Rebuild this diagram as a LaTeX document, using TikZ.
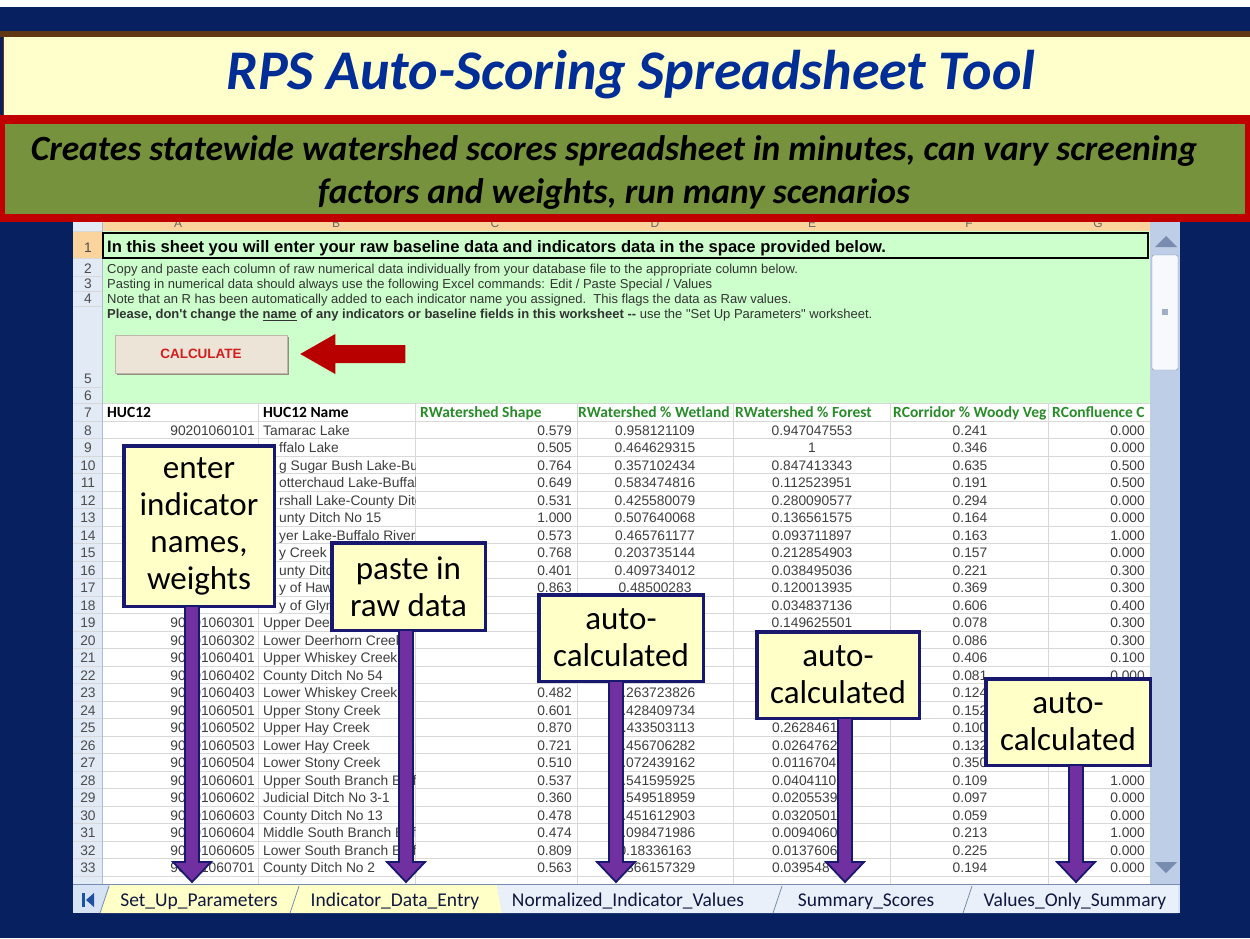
\documentclass[tikz,border=0pt]{standalone}
\usepackage{fontspec}
\setmainfont{Carlito}
\newfontfamily\arial{Liberation Sans}
\usetikzlibrary{calc}

\definecolor{navy}{RGB}{6,32,96}
\definecolor{cream}{RGB}{255,255,204}
\definecolor{titleblue}{RGB}{0,45,150}
\definecolor{bandred}{RGB}{192,0,0}
\definecolor{bandgreen}{RGB}{118,146,60}
\definecolor{brownline}{RGB}{96,56,20}
\definecolor{sheetgreen}{RGB}{204,255,204}
\definecolor{gridgray}{RGB}{216,216,216}
\definecolor{hdrblue}{RGB}{226,234,246}
\definecolor{hdrpeach}{RGB}{250,212,156}
\definecolor{cellgray}{RGB}{62,62,62}
\definecolor{hdrgreen}{RGB}{40,140,40}
\definecolor{btnface}{RGB}{236,228,214}
\definecolor{btnshade}{RGB}{150,140,130}
\definecolor{btnred}{RGB}{210,30,30}
\definecolor{darkred}{RGB}{185,0,0}
\definecolor{calloutfill}{RGB}{255,255,200}
\definecolor{calloutline}{RGB}{24,24,110}
\definecolor{arrowpurple}{RGB}{112,48,160}
\definecolor{scrollbg}{RGB}{190,206,230}
\definecolor{scrolledge}{RGB}{120,140,175}
\definecolor{tabbar}{RGB}{214,227,245}
\definecolor{tabyellow}{RGB}{255,255,200}
\definecolor{tabtext}{RGB}{16,24,64}
\definecolor{navblue}{RGB}{30,80,160}

% baseline of worksheet row #1 (rows 7 and below)
\newcommand\ry[1]{\fpeval{417.5+(#1-7)*17.5}}

% worksheet cells, one macro per column
\newcommand\cA[2]{\node[cell,anchor=base east] (A#1) at (255,\ry{#1}) {#2};}
\newcommand\cB[3]{\node[cell,anchor=base west] (B#1) at (#2,\ry{#1}) {#3};}
\newcommand\cC[2]{\node[cell,anchor=base east] (C#1) at (572,\ry{#1}) {#2};}
\newcommand\cD[2]{\node[cell,anchor=base] (D#1) at (655,\ry{#1}) {#2};}
\newcommand\cE[2]{\node[cell,anchor=base] (E#1) at (812,\ry{#1}) {#2};}
\newcommand\cEw[2]{\node[cell,anchor=base west] (E#1) at (772,\ry{#1}) {#2};}
\newcommand\cF[2]{\node[cell,anchor=base] (F#1) at (970,\ry{#1}) {#2};}
\newcommand\cG[2]{\node[cell,anchor=base east] (G#1) at (1145,\ry{#1}) {#2};}

% block arrow from a callout down to its sheet tab
\newcommand\blockarrow[2]{%
  \filldraw[blockarrowstyle] let \p1=(#1), \p2=(#2) in
    (\x2-7pt,\y1) -- (\x2-7pt,\y2+20pt) -- (\x2-19pt,\y2+20pt) -- (\x2,\y2)
    -- (\x2+19pt,\y2+20pt) -- (\x2+7pt,\y2+20pt) -- (\x2+7pt,\y1) -- cycle;}

\begin{document}
\begin{tikzpicture}[x=1pt,y=-1pt,
  cell/.style={font=\arial\fontsize{13.8}{16}\selectfont, text=cellgray, inner sep=0pt},
  rownum/.style={font=\arial\fontsize{13.8}{16}\selectfont, text=black!70, inner sep=0pt, anchor=base},
  note/.style={font=\arial\fontsize{13}{15}\selectfont, text=black!80, inner sep=0pt, anchor=base west},
  colhead/.style={font=\bfseries\fontsize{15.5}{18}\selectfont, text=hdrgreen, inner sep=0pt, anchor=base west},
  colletter/.style={font=\arial\fontsize{12}{14}\selectfont, text=black!60, inner sep=0pt},
  grid/.style={draw=gridgray, line width=0.8pt},
  callout/.style={draw=calloutline, fill=calloutfill, line width=3.5pt, align=center,
    inner sep=0pt, font=\fontsize{33}{37}\selectfont, text=black},
  blockarrowstyle/.style={fill=arrowpurple, draw=calloutline, line width=1.8pt, line join=miter},
  tablabel/.style={font=\fontsize{19.5}{22}\selectfont, text=tabtext, inner sep=0pt, anchor=base},
  tabsep/.style={draw=scrolledge, line width=0.8pt},
]
\useasboundingbox (0,0) rectangle (1250,938);

% backdrop
\fill[white] (0,0) rectangle (1250,7);
\fill[navy] (0,7) rectangle (1250,938);

% ---------------- worksheet ----------------
\fill[white] (73,215) rectangle (1150,884);
\fill[hdrpeach] (102,215) rectangle (1150,231);
\fill[hdrblue] (73,215) rectangle (102,884);
\foreach \x/\l in {178/A,336/B,495/C,655/D,812/E,969/F,1098/G}
  \node[colletter] (col\l) at (\x,223) {\l};
\fill[sheetgreen] (102,231) rectangle (1150,403.75);
\fill[hdrpeach] (73,231) rectangle (102,258);

% grid of the data rows
\foreach \k in {0,...,27}
  \draw[grid] (73,{403.75+\k*17.5}) -- (1150,{403.75+\k*17.5});
\foreach \yy in {231,258,276,291,306,387}
  \draw[grid] (73,\yy) -- (102,\yy);
\foreach \x in {258,415,577,733,890,1048}
  \draw[grid] (\x,403.75) -- (\x,884);
\draw[draw=scrolledge!60, line width=0.8pt] (102,215) -- (102,884);

% row numbers
\foreach \r/\yy in {1/252,2/273,3/288,4/303,5/383,6/400}
  \node[rownum] (n\r) at (88,\yy) {\r};
\foreach \r in {7,...,33}
  \node[rownum] (n\r) at (88,\ry{\r}) {\r};

% instructions block
\draw[black, line width=1.2pt] (103,233) rectangle (1148,258);
\node[font=\arial\bfseries\fontsize{16.6}{18}\selectfont, inner sep=0pt, anchor=base west] (line1)
  at (107,252.5) {In this sheet you will enter your raw baseline data and indicators data in the space provided below.};
\node[note] (line2) at (107,273.5) {Copy and paste each column of raw numerical data individually from your database file to the appropriate column below.};
\node[note] (line3) at (107,288.5) {Pasting in numerical data should always use the following Excel commands: Edit / Paste Special / Values};
\node[note] (line4) at (107,303.5) {Note that an R has been automatically added to each indicator name you assigned.\ \ This flags the data as Raw values.};
\node[note] (line5) at (107,318.5) {\bfseries Please, don't change the \underline{name} of any indicators or baseline fields in this worksheet -{}-\mdseries\ use the "Set Up Parameters" worksheet.};

% calculate button and its pointer
\fill[btnshade] (117,337) rectangle (289,375);
\node[fill=btnface, draw=btnface!80!black, line width=0.5pt, minimum width=172pt, minimum height=38pt,
  inner sep=0pt, font=\arial\bfseries\fontsize{13.5}{15}\selectfont, text=btnred] (calc) at (201,354) {CALCULATE};
\coordinate (rtip) at ($(calc.east)+(13,0)$);
\fill[darkred] let \p1=(rtip) in
  (\x1,\y1) -- (\x1+35pt,\y1+20pt) -- (\x1+35pt,\y1+9pt) -- (\x1+105pt,\y1+9pt)
  -- (\x1+105pt,\y1-9pt) -- (\x1+35pt,\y1-9pt) -- (\x1+35pt,\y1-20pt) -- cycle;

% column headings
\node[colhead, text=black] (hA) at (107,\ry{7}) {HUC12};
\node[colhead, text=black] (hB) at (263,\ry{7}) {HUC12 Name};
\node[colhead] (hC) at (420,\ry{7}) {RWatershed Shape};
\node[colhead] (hD) at (578,\ry{7}) {RWatershed \% Wetland};
\node[colhead] (hE) at (735,\ry{7}) {RWatershed \% Forest};
\begin{scope}
  \clip (890,400) rectangle (1047,425);
  \node[colhead] (hF) at (893,\ry{7}) {RCorridor \% Woody Veg};
\end{scope}
\begin{scope}
  \clip (1048,400) rectangle (1148,425);
  \node[colhead] (hG) at (1052,\ry{7}) {RConfluence C};
\end{scope}

% column A
\cA{8}{90201060101}
\foreach \r/\v in {19/90201060301,20/90201060302,21/90201060401,22/90201060402,23/90201060403,
  24/90201060501,25/90201060502,26/90201060503,27/90201060504,28/90201060601,29/90201060602,
  30/90201060603,31/90201060604,32/90201060605,33/90201060701}
  {\cA{\r}{\v}}

% column B (text is cut at the next filled cell)
\begin{scope}
  \clip (258,400) rectangle (415,884);
  \cB{8}{263}{Tamarac Lake}
  \foreach \r/\v in {9/ffalo Lake,10/g Sugar Bush Lake-Buffalo,11/otterchaud Lake-Buffalo River,
    12/rshall Lake-County Ditch,13/unty Ditch No 15,14/yer Lake-Buffalo River,15/y Creek,
    16/unty Ditch,17/y of Hawley,18/y of Glyndon}
    {\cB{\r}{279}{\v}}
  \foreach \r/\v in {19/Upper Dee,20/Lower Deerhorn Creek,21/Upper Whiskey Creek,
    22/County Ditch No 54,23/Lower Whiskey Creek,24/Upper Stony Creek,25/Upper Hay Creek,
    26/Lower Hay Creek,27/Lower Stony Creek,28/Upper South Branch Buffalo River,
    29/Judicial Ditch No 3-1,30/County Ditch No 13,31/Middle South Branch Buffalo River,
    32/Lower South Branch Buffalo River,33/County Ditch No 2}
    {\cB{\r}{263}{\v}}
\end{scope}

% columns C and D
\foreach \r/\c/\d in {8/0.579/0.958121109,9/0.505/0.464629315,10/0.764/0.357102434,
  11/0.649/0.583474816,12/0.531/0.425580079,13/1.000/0.507640068,14/0.573/0.465761177,
  15/0.768/0.203735144,16/0.401/0.409734012,17/0.863/0.48500283,
  23/0.482/0.263723826,24/0.601/0.428409734,25/0.870/0.433503113,26/0.721/0.456706282,
  27/0.510/0.072439162,28/0.537/0.541595925,29/0.360/0.549518959,30/0.478/0.451612903,
  31/0.474/0.098471986,32/0.809/0.18336163,33/0.563/0.366157329}
  {\cC{\r}{\c}\cD{\r}{\d}}

% column E
\foreach \r/\v in {8/0.947047553,9/1,10/0.847413343,11/0.112523951,12/0.280090577,
  13/0.136561575,14/0.093711897,15/0.212854903,16/0.038495036,17/0.120013935,
  18/0.034837136,19/0.149625501}
  {\cE{\r}{\v}}
\foreach \r/\v in {25/0.2628461,26/0.0264762,27/0.0116704,28/0.0404110,29/0.0205539,
  30/0.0320501,31/0.0094060,32/0.0137606,33/0.039548}
  {\cEw{\r}{\v}}

% column F
\foreach \r/\v in {8/0.241,9/0.346,10/0.635,11/0.191,12/0.294,13/0.164,14/0.163,15/0.157,
  16/0.221,17/0.369,18/0.606,19/0.078,20/0.086,21/0.406,22/0.081,23/0.124,24/0.152,
  25/0.100,26/0.132,27/0.350,28/0.109,29/0.097,30/0.059,31/0.213,32/0.225,33/0.194}
  {\cF{\r}{\v}}

% column G
\foreach \r/\v in {8/0.000,9/0.000,10/0.500,11/0.500,12/0.000,13/0.000,14/1.000,15/0.000,
  16/0.300,17/0.300,18/0.400,19/0.300,20/0.300,21/0.100,22/0.000,
  28/1.000,29/0.000,30/0.000,31/1.000,32/0.000,33/0.000}
  {\cG{\r}{\v}}

% vertical scroll bar
\fill[scrollbg] (1150,222) rectangle (1180,884);
\fill[scrolledge] (1155,247) -- (1166,236) -- (1177,247) -- cycle;
\filldraw[fill=white!88!scrollbg, draw=scrolledge, rounded corners=2pt] (1152,255) rectangle (1178,370);
\fill[scrolledge!70] (1162,309) rectangle (1168,315);
\fill[scrolledge] (1155,862) -- (1177,862) -- (1166,873) -- cycle;

% sheet tabs
\fill[tabbar] (73,884) rectangle (1180,913);
\draw[scrolledge, line width=0.8pt] (73,884) -- (1180,884);
\fill[tabyellow] (100,913) -- (110,885) -- (497,885) -- (502,913) -- cycle;
\fill[white!45!tabbar] (502,913) -- (497,885) -- (1178,885) -- (1178,913) -- cycle;
\foreach \x in {100,290,773,963}
  \draw[tabsep] (\x,913) -- (\x+9,886);
\fill[navblue] (82,893) rectangle (84.5,907);
\fill[navblue] (86,900) -- (94,893) -- (94,907) -- cycle;
\node[tablabel] (tab1) at (199,906) {Set\_Up\_Parameters};
\node[tablabel] (tab2) at (395,906) {Indicator\_Data\_Entry};
\node[tablabel] (tab3) at (628,906) {Normalized\_Indicator\_Values};
\node[tablabel] (tab4) at (866,906) {Summary\_Scores};
\node[tablabel] (tab5) at (1075,906) {Values\_Only\_Summary};

% ---------------- banner ----------------
\fill[brownline] (0,31) rectangle (1250,37);
\fill[cream] (3,37) rectangle (1250,115);
\draw[brownline, line width=0.8pt] (3,37) -- (3,115);
\node[font=\bfseries\itshape\fontsize{56}{60}\selectfont, text=titleblue, inner sep=0pt] (title)
  at (631,75) {RPS Auto-Scoring Spreadsheet Tool};
\fill[bandred] (0,115) rectangle (1250,222);
\fill[bandgreen] (5,124) rectangle (1245,214);
\node[font=\bfseries\itshape\fontsize{35.5}{43}\selectfont, align=center, inner sep=0pt] (subtitle)
  at (614,173) {Creates statewide watershed scores spreadsheet in minutes, can vary screening\\
  factors and weights, run many scenarios};

% ---------------- callouts ----------------
\coordinate (t1) at (192,882);
\coordinate (t2) at (406,882);
\coordinate (t3) at (616,882);
\coordinate (t4) at (845,882);
\coordinate (t5) at (1076,882);

\node[callout, minimum width=150.5pt, minimum height=160.5pt] (c1) at (199,526)
  {enter\\indicator\\names,\\weights};
\node[callout, minimum width=153.5pt, minimum height=87.5pt] (c2) at (408.5,586.5)
  {paste in\\raw data};
\node[callout, minimum width=164.5pt, minimum height=86.5pt] (c3) at (621,638)
  {auto-\\calculated};
\node[callout, minimum width=162.5pt, minimum height=86.5pt] (c4) at (838,675)
  {auto-\\calculated};
\node[callout, minimum width=164.5pt, minimum height=86.5pt] (c5) at (1068,722)
  {auto-\\calculated};

\blockarrow{$(t1 |- c1.south)+(0,-2)$}{t1}
\blockarrow{$(t2 |- c2.south)+(0,-2)$}{t2}
\blockarrow{$(t3 |- c3.south)+(0,-2)$}{t3}
\blockarrow{$(t4 |- c4.south)+(0,-2)$}{t4}
\blockarrow{$(t5 |- c5.south)+(0,-2)$}{t5}
\end{tikzpicture}
\end{document}
